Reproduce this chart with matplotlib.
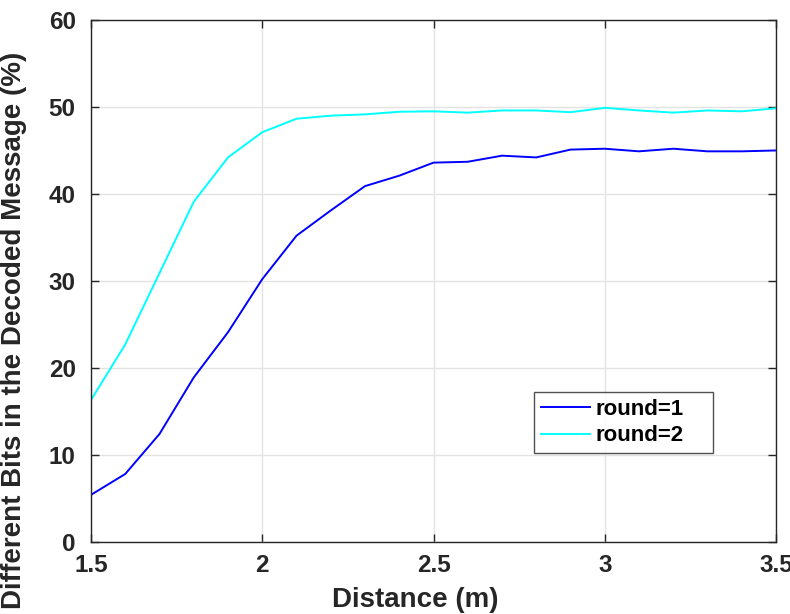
import numpy as np
import matplotlib
matplotlib.use('Agg')
import matplotlib.pyplot as plt

# distance (m), sampled every 0.1
distance = np.round(np.arange(1.5, 3.51, 0.1), 2)

# percentage of wrong bits after decoding
round1 = [5.4, 7.8, 12.4, 18.9, 24.1, 30.2, 35.2, 38.1, 40.9, 42.1, 43.6,
          43.7, 44.4, 44.2, 45.1, 45.2, 44.9, 45.2, 44.9, 44.9, 45.0]
round2 = [16.3, 22.7, 30.9, 39.1, 44.2, 47.1, 48.65, 49.0, 49.15, 49.45, 49.5,
          49.35, 49.6, 49.6, 49.4, 49.9, 49.6, 49.35, 49.6, 49.5, 49.85]

labels = ['round=1', 'round=2']
xticks = [1.5, 2, 2.5, 3, 3.5]
yticks = [0, 10, 20, 30, 40, 50, 60]

plt.rcParams['font.family'] = ['Liberation Sans', 'DejaVu Sans']
plt.rcParams['font.weight'] = 'bold'

fig = plt.figure(figsize=(7.9, 6.14), dpi=100)
ax = fig.add_axes([0.1152, 0.1176, 0.8671, 0.8498])

ax.plot(distance, round1, color='#0000ff', lw=1.4, label=labels[0])
ax.plot(distance, round2, color='#00ffff', lw=1.4, label=labels[1])

ax.set_xlim(1.5, 3.5)
ax.set_ylim(0, 60)
ax.set_xticks(xticks)
ax.set_xticklabels(['1.5', '2', '2.5', '3', '3.5'])
ax.set_yticks(yticks)

ax.grid(True, color='#e3e3e3', lw=1.0)
ax.set_axisbelow(True)
for s in ax.spines.values():
    s.set_color('#262626')
    s.set_linewidth(1.0)
ax.tick_params(direction='in', length=6, width=1.0, colors='#262626',
               labelsize=17.5, top=True, right=True)
ax.tick_params(axis='x', pad=8.5)
ax.tick_params(axis='y', pad=11)
for t in ax.get_xticklabels() + ax.get_yticklabels():
    t.set_fontweight('bold')
    t.set_color('#262626')

ax.set_xlabel('Distance (m)', fontsize=20, fontweight='bold', color='#262626')
ax.xaxis.set_label_coords(0.474, -0.0866)
ax.set_ylabel('Different Bits in the Decoded Message (%)', fontsize=20,
              fontweight='bold', color='#262626')
ax.yaxis.set_label_coords(-0.093, 0.406)

leg = ax.legend(loc='lower left', bbox_to_anchor=(0.6467, 0.170, 0.261, 0.117),
                mode='expand', fontsize=16, frameon=True, fancybox=False,
                handlelength=2.2, handletextpad=0.25, borderpad=0.3,
                labelspacing=0.25, borderaxespad=0)
leg.get_frame().set_edgecolor('#262626')
leg.get_frame().set_linewidth(1.0)
for t in leg.get_texts():
    t.set_fontweight('bold')

fig.savefig('out.png', dpi=100)
